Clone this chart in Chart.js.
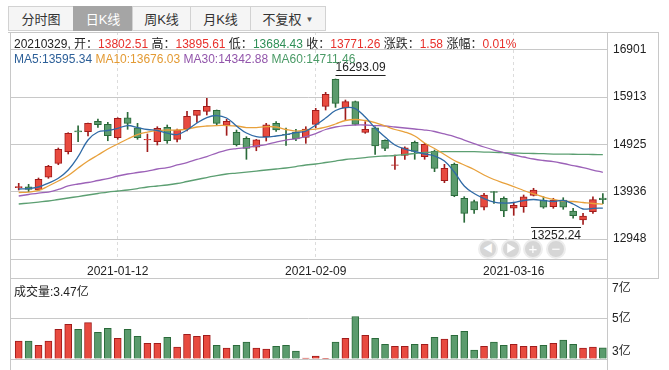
<!DOCTYPE html>
<html>
<head>
<meta charset="utf-8">
<title>日K线</title>
<script src="https://cdn.jsdelivr.net/npm/chart.js@4.4.1/dist/chart.umd.min.js"></script>
<style>
  html, body { margin: 0; padding: 0; background: #fff; }
  body { width: 669px; height: 370px; position: relative; overflow: hidden;
         font-family: "Liberation Sans", Arial, "Noto Sans CJK SC", sans-serif; font-size: 12px; color: #222; }
  .tabs { position: absolute; left: 8px; top: 6px; display: flex; }
  .tab { height: 25px; line-height: 25px; border: 1px solid #d2d2d2; border-right: none;
         background: #f5f5f5; text-align: center; font-size: 13px; color: #333; box-sizing: border-box; }
  .tab:last-child { border-right: 1px solid #d2d2d2; }
  .tab.on { background: #a5a5a5; color: #fff; border-color: #a5a5a5; }
  .tab .arr { font-size: 8px; color: #555; margin-left: 4px; vertical-align: 2px; }
  canvas { position: absolute; left: 0; }
  .ln { position: absolute; background: #c8c8c8; }
  .txt { position: absolute; left: 14px; white-space: nowrap; z-index: 3; }
  .r { color: #e8302b; } .g { color: #2f8f57; }
  .m5 { color: #2c5f98; } .m10 { color: #e39a33; } .m30 { color: #9255ab; } .m60 { color: #4a9a66; }
  .nav { position: absolute; top: 239px; width: 16px; height: 16px; border-radius: 50%;
         background: #d6d6d6; border: 2px solid #ededed; color: #fff; font-size: 10px;
         line-height: 16px; text-align: center; z-index: 3; }
</style>
</head>
<body>
<div class="tabs">
  <div class="tab" style="width:65px">分时图</div>
  <div class="tab on" style="width:59px">日K线</div>
  <div class="tab" style="width:58px">周K线</div>
  <div class="tab" style="width:60px">月K线</div>
  <div class="tab" style="width:76px">不复权<span class="arr">▼</span></div>
</div>

<canvas id="price" width="669" height="280" style="top:0"></canvas>
<canvas id="volume" width="669" height="100" style="top:270px"></canvas>

<div class="ln" style="left:8px;top:32px;width:651px;height:1px"></div>
<div class="ln" style="left:10px;top:32px;width:1px;height:338px"></div>
<div class="ln" style="left:658px;top:32px;width:1px;height:247px"></div>
<div class="ln" style="left:607px;top:278px;width:52px;height:1px"></div>
<div class="ln" style="left:607px;top:259px;width:1px;height:111px"></div>

<div class="txt" style="top:34px">20210329, 开：<span class="r">13802.51</span> 高：<span class="r">13895.61</span> 低：<span class="g">13684.43</span> 收：<span class="r">13771.26</span> 涨跌：<span class="r">1.58</span> 涨幅：<span class="r">0.01%</span></div>
<div class="txt" style="top:52px"><span class="m5">MA5:13595.34</span> <span class="m10">MA10:13676.03</span> <span class="m30">MA30:14342.88</span> <span class="m60">MA60:14711.46</span></div>
<div class="txt" style="top:282px">成交量:3.47亿</div>

<div class="nav" style="left:478px">◀</div>
<div class="nav" style="left:501px">▶</div>
<div class="nav" style="left:523px;font-size:15px">+</div>
<div class="nav" style="left:546px;font-size:15px">−</div>

<script>
const FONT = '"Liberation Sans", Arial, "Noto Sans CJK SC", sans-serif';
Chart.defaults.font.family = FONT;
Chart.defaults.font.size = 12;
Chart.defaults.color = '#222';

// trading days
const dates = [
  '2020-12-28', '2020-12-29', '2020-12-30', '2020-12-31', '2021-01-04', '2021-01-05', '2021-01-06', '2021-01-07',
  '2021-01-08', '2021-01-11', '2021-01-12', '2021-01-13', '2021-01-14', '2021-01-15', '2021-01-18', '2021-01-19',
  '2021-01-20', '2021-01-21', '2021-01-22', '2021-01-25', '2021-01-26', '2021-01-27', '2021-01-28', '2021-01-29',
  '2021-02-01', '2021-02-02', '2021-02-03', '2021-02-04', '2021-02-05', '2021-02-08', '2021-02-09', '2021-02-10',
  '2021-02-18', '2021-02-19', '2021-02-22', '2021-02-23', '2021-02-24', '2021-02-25', '2021-02-26', '2021-03-01',
  '2021-03-02', '2021-03-03', '2021-03-04', '2021-03-05', '2021-03-08', '2021-03-09', '2021-03-10', '2021-03-11',
  '2021-03-12', '2021-03-15', '2021-03-16', '2021-03-17', '2021-03-18', '2021-03-19', '2021-03-22', '2021-03-23',
  '2021-03-24', '2021-03-25', '2021-03-26', '2021-03-29'
];
const dateTickIdx = [10, 30, 50];

const opens = [
  14020, 14041, 13972, 14238, 14530, 14773, 15211, 15191, 15408, 15345,
  15065, 15483, 15274, 15017, 14982, 15282, 15032, 15247, 15533, 15617,
  15638, 15324, 15178, 15053, 14865, 15086, 15366, 15136, 15184, 15074,
  15345, 15721, 16286, 15686, 15818, 15178, 15274, 15011, 14488, 14697,
  14969, 14668, 14781, 14166, 14509, 13799, 13728, 13611, 13937, 13799,
  13590, 13623, 13861, 13763, 13623, 13763, 13533, 13345, 13519, 13802.51
];
const highs = [
  14112, 14091, 14223, 14488, 14850, 15170, 15316, 15372, 15456, 15387,
  15483, 15596, 15366, 15143, 15295, 15331, 15247, 15617, 15640, 15889,
  15645, 15450, 15226, 15086, 15030, 15366, 15400, 15268, 15241, 15295,
  15680, 16014, 16293.09, 15853, 15832, 15400, 15295, 15023, 14704, 14877,
  14996, 14948, 14808, 14509, 14536, 13832, 13763, 13903, 13940, 13832,
  13694, 13868, 14008, 13832, 13799, 13811, 13590, 13485, 13832, 13895.61
];
const lows = [
  13972, 13937, 13960, 14217, 14501, 14725, 14982, 15101, 15282, 15002,
  15032, 15241, 15032, 14773, 14913, 14948, 14975, 15205, 15387, 15540,
  15331, 15115, 14892, 14614, 14793, 14996, 15199, 14906, 15002, 14948,
  15274, 15644, 15700, 15435, 15331, 15157, 14718, 14793, 14405, 14614,
  14614, 14614, 14355, 14125, 13832, 13297, 13485, 13554, 13694, 13414,
  13443, 13506, 13847, 13590, 13590, 13569, 13381, 13252.24, 13485, 13684.43
];
const closes = [
  14045, 13987, 14196, 14467, 14823, 15157, 15184, 15366, 15337, 15107,
  15471, 15366, 15065, 15032, 15262, 15002, 15226, 15512, 15638, 15721,
  15366, 15408, 14919, 14844, 15023, 15337, 15226, 15128, 15038, 15247,
  15638, 15972, 15784, 15818, 15345, 15241, 14892, 14844, 14501, 14856,
  14781, 14927, 14426, 14426, 13853, 13485, 13554, 13868, 13924, 13533,
  13652, 13832, 13972, 13611, 13763, 13611, 13435, 13429, 13769.68, 13771.26
];

const ma5 = [
  13993, 14003, 14035, 14118, 14217, 14390, 14668, 15017, 15184, 15216,
  15262, 15320, 15278, 15237, 15216, 15163, 15132, 15226, 15372, 15487,
  15529, 15477, 15310, 15163, 15090, 15080, 15101, 15132, 15174, 15205,
  15331, 15477, 15634, 15696, 15675, 15498, 15268, 15080, 14913, 14829,
  14777, 14725, 14683, 14578, 14348, 14056, 13899, 13794, 13721, 13700,
  13711, 13753, 13774, 13753, 13732, 13753, 13680, 13575, 13590, 13595.34
];
const ma10 = [
  13920, 13930, 13962, 14056, 14160, 14275, 14432, 14578, 14704, 14829,
  14934, 15038, 15132, 15184, 15216, 15226, 15226, 15247, 15289, 15310,
  15320, 15320, 15310, 15278, 15278, 15299, 15289, 15237, 15205, 15226,
  15247, 15289, 15352, 15425, 15446, 15425, 15383, 15310, 15237, 15184,
  15101, 14954, 14839, 14714, 14589, 14495, 14401, 14286, 14192, 14118,
  14045, 13962, 13889, 13826, 13774, 13742, 13732, 13711, 13690, 13676.03
];
const ma30 = [
  13847, 13878, 13909, 13930, 13983, 14056, 14098, 14129, 14171, 14212,
  14265, 14307, 14338, 14369, 14411, 14442, 14495, 14547, 14610, 14672,
  14745, 14808, 14839, 14860, 14892, 14923, 14975, 15017, 15042, 15090,
  15153, 15237, 15289, 15320, 15331, 15331, 15320, 15310, 15289, 15268,
  15247, 15226, 15195, 15143, 15090, 15017, 14944, 14871, 14808, 14756,
  14704, 14662, 14620, 14589, 14564, 14526, 14484, 14442, 14390, 14342.88
];
const ma60 = [
  13680, 13700, 13721, 13742, 13774, 13805, 13836, 13868, 13899, 13930,
  13951, 13972, 14003, 14035, 14056, 14077, 14108, 14150, 14192, 14233,
  14275, 14307, 14327, 14348, 14369, 14390, 14411, 14432, 14463, 14495,
  14516, 14547, 14578, 14610, 14630, 14651, 14672, 14683, 14693, 14714,
  14735, 14756, 14766, 14773, 14773, 14773, 14773, 14766, 14760, 14752,
  14745, 14739, 14735, 14731, 14724, 14724, 14720, 14718, 14714, 14711.46
];

// volume, 亿
const volumes = [
  3.88, 3.88, 3.68, 3.88, 4.46, 4.71, 4.46, 4.80, 4.32, 4.51,
  4.02, 4.46, 4.12, 3.78, 3.78, 4.07, 3.59, 4.22, 4.12, 4.17,
  3.68, 3.54, 3.68, 3.83, 3.54, 3.49, 3.63, 3.68, 3.39, 3.05,
  3.15, 3.02, 3.83, 4.02, 5.10, 4.17, 4.02, 3.73, 3.63, 3.63,
  3.73, 3.73, 4.07, 3.98, 4.17, 4.37, 3.44, 3.63, 3.83, 3.68,
  3.73, 3.63, 3.63, 3.68, 3.78, 3.93, 3.73, 3.54, 3.59, 3.55
];

const priceTicks = [12948, 13936, 14925, 15913, 16901];
const volTicks = [3, 5, 7];

const RED = '#e84a3f', RED_EDGE = '#a01c1c';
const GREEN = '#5b9b6d', GREEN_EDGE = '#2a6a3a';
const isUp = i => closes[i] >= opens[i];
const fills = opens.map((o, i) => isUp(i) ? RED : GREEN);
const edges = opens.map((o, i) => isUp(i) ? RED_EDGE : GREEN_EDGE);

const xRange = { min: -0.88, max: 59.42 };

function maSet(label, data, color) {
	return {
		type: 'line', label, data: data.map((v, i) => ({ x: i, y: v })),
		borderColor: color, borderWidth: 1.3, pointRadius: 0, tension: 0.4, order: 0
	};
}

// high / low markers
const extremes = {
	id: 'extremes',
	afterDatasetsDraw(chart) {
		const { ctx, scales: { x, y } } = chart;
		const hi = highs.indexOf(Math.max(...highs));
		const lo = lows.indexOf(Math.min(...lows));
		ctx.save();
		ctx.font = '12px ' + FONT;
		ctx.fillStyle = '#222';
		ctx.strokeStyle = '#222';
		ctx.lineWidth = 1;

		const hx = x.getPixelForValue(hi), hy = y.getPixelForValue(highs[hi]);
		const ht = highs[hi].toFixed(2), hw = ctx.measureText(ht).width;
		ctx.textAlign = 'left';
		ctx.textBaseline = 'bottom';
		ctx.fillText(ht, hx, hy - 5);
		ctx.beginPath();
		ctx.moveTo(hx, Math.round(hy - 4) + 0.5);
		ctx.lineTo(hx + hw, Math.round(hy - 4) + 0.5);
		ctx.stroke();

		const lx = x.getPixelForValue(lo) - 2, ly = y.getPixelForValue(lows[lo]);
		const lt = lows[lo].toFixed(2), lw = ctx.measureText(lt).width;
		ctx.textAlign = 'right';
		ctx.textBaseline = 'top';
		ctx.fillText(lt, lx, ly + 5);
		ctx.beginPath();
		ctx.moveTo(lx - lw, Math.round(ly + 3) + 0.5);
		ctx.lineTo(lx, Math.round(ly + 3) + 0.5);
		ctx.stroke();
		ctx.restore();
	}
};

new Chart(document.getElementById('price'), {
	type: 'bar',
	data: {
		datasets: [
			maSet('MA5', ma5, '#2f6aa6'),
			maSet('MA10', ma10, '#e8a13c'),
			maSet('MA30', ma30, '#9c62b8'),
			maSet('MA60', ma60, '#5c9f72'),
			{
				type: 'bar', label: 'body', order: 1, grouped: false,
				data: opens.map((o, i) => ({ x: i, y: [o, closes[i]] })),
				backgroundColor: fills, borderColor: edges, borderWidth: 1,
				borderSkipped: false, barThickness: 7
			},
			{
				type: 'bar', label: 'wick', order: 2, grouped: false,
				data: lows.map((l, i) => ({ x: i, y: [l, highs[i]] })),
				backgroundColor: edges, borderWidth: 0, barThickness: 1
			}
		]
	},
	options: {
		responsive: false,
		animation: false,
		layout: { padding: { left: 10, top: 32, right: 0, bottom: 0 } },
		plugins: { legend: { display: false }, tooltip: { enabled: false } },
		scales: {
			x: {
				type: 'linear', min: xRange.min, max: xRange.max, offset: false,
				afterBuildTicks: s => { s.ticks = dateTickIdx.map(v => ({ value: v })); },
				afterFit: s => { s.height = 21; },
				ticks: { callback: v => dates[v], autoSkip: false, maxRotation: 0, padding: 5, font: { size: 12 } },
				grid: { color: '#dcdcdc', drawTicks: false, offset: false },
				border: { display: true, color: '#c8c8c8', dash: [3, 3] }
			},
			y: {
				position: 'right', min: 12530, max: 17275,
				afterBuildTicks: s => { s.ticks = priceTicks.map(v => ({ value: v })); },
				afterFit: s => { s.width = 62; },
				ticks: { callback: v => String(v), padding: 6, font: { size: 12 } },
				grid: { color: '#c8c8c8', drawTicks: false },
				border: { display: true, color: '#c8c8c8' }
			}
		}
	},
	plugins: [extremes]
});

// volume axis labels kept inside the panel
const volLabels = {
	id: 'volLabels',
	afterDraw(chart) {
		const { ctx, chartArea, scales: { y } } = chart;
		ctx.save();
		ctx.font = '12px ' + FONT;
		ctx.fillStyle = '#222';
		ctx.textAlign = 'left';
		ctx.textBaseline = 'middle';
		volTicks.forEach(v => {
			const py = Math.min(Math.max(y.getPixelForValue(v), chartArea.top + 11), chartArea.bottom - 7);
			ctx.fillText(v + '亿', chartArea.right + 5, py);
		});
		ctx.restore();
	}
};

new Chart(document.getElementById('volume'), {
	type: 'bar',
	data: {
		datasets: [{
			label: '成交量', grouped: false,
			data: volumes.map((v, i) => ({ x: i, y: v })),
			base: 3,
			backgroundColor: fills, borderColor: edges, borderWidth: 1, barThickness: 7
		}]
	},
	options: {
		responsive: false,
		animation: false,
		layout: { padding: { left: 10, top: 8, right: 0, bottom: 11 } },
		plugins: { legend: { display: false }, tooltip: { enabled: false } },
		scales: {
			x: { type: 'linear', min: xRange.min, max: xRange.max, offset: false, display: false },
			y: {
				position: 'right', min: 3, max: 7,
				afterBuildTicks: s => { s.ticks = volTicks.map(v => ({ value: v })); },
				afterFit: s => { s.width = 62; },
				ticks: { display: false },
				grid: { color: '#c8c8c8', drawTicks: false },
				border: { display: true, color: '#c8c8c8' }
			}
		}
	},
	plugins: [volLabels]
});
</script>
</body>
</html>
